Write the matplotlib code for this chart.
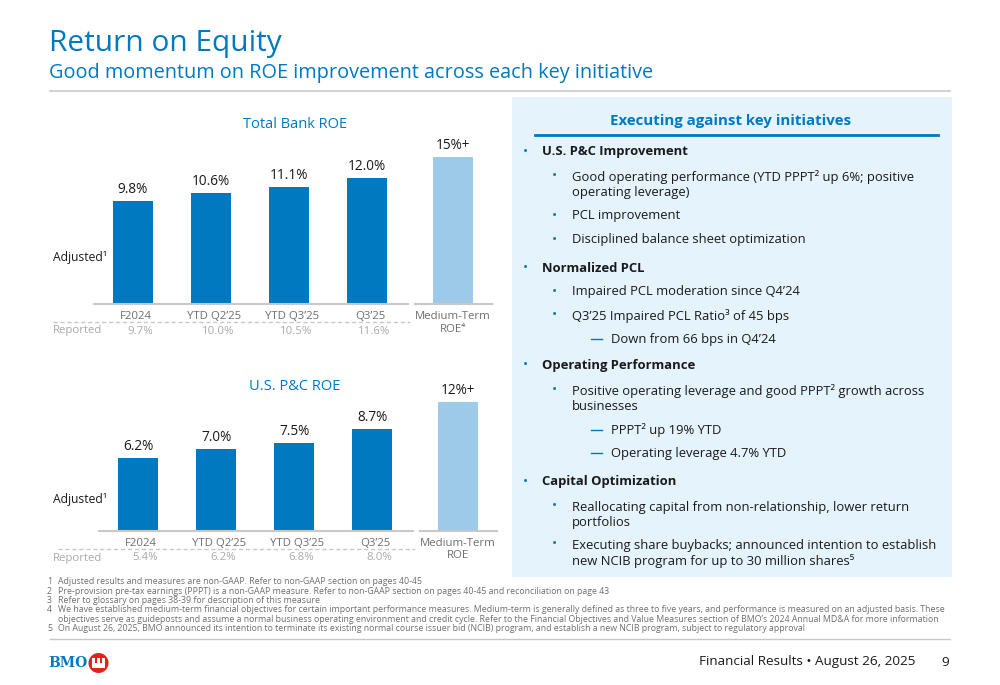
import numpy as np
import matplotlib
matplotlib.use('Agg')
import matplotlib.pyplot as plt
from matplotlib import transforms
from matplotlib.patches import Rectangle, Ellipse
from matplotlib.lines import Line2D
from matplotlib import font_manager

# ---- data ----
periods = ['F2024', 'YTD Q2’25', 'YTD Q3’25', 'Q3’25']
bank_adjusted = [9.8, 10.6, 11.1, 12.0]
bank_reported = [9.7, 10.0, 10.5, 11.6]
bank_target = 14.0          # drawn height of the medium-term bar
bank_target_label = '15%+'
usp_adjusted = [6.2, 7.0, 7.5, 8.7]
usp_reported = [5.4, 6.2, 6.8, 8.0]
usp_target = 11.0
usp_target_label = '12%+'

bullets = [
    (1, ['U.S. P&C Improvement']),
    (2, ['Good operating performance (YTD PPPT² up 6%; positive', 'operating leverage)']),
    (2, ['PCL improvement']),
    (2, ['Disciplined balance sheet optimization']),
    (1, ['Normalized PCL']),
    (2, ['Impaired PCL moderation since Q4’24']),
    (2, ['Q3’25 Impaired PCL Ratio³ of 45 bps']),
    (3, ['Down from 66 bps in Q4’24']),
    (1, ['Operating Performance']),
    (2, ['Positive operating leverage and good PPPT² growth across', 'businesses']),
    (3, ['PPPT² up 19% YTD']),
    (3, ['Operating leverage 4.7% YTD']),
    (1, ['Capital Optimization']),
    (2, ['Reallocating capital from non-relationship, lower return', 'portfolios']),
    (2, ['Executing share buybacks; announced intention to establish',
         'new NCIB program for up to 30 million shares⁵']),
]

footnotes = [
    ('1', 'Adjusted results and measures are non-GAAP. Refer to non-GAAP section on pages 40-45'),
    ('2', 'Pre-provision pre-tax earnings (PPPT) is a non-GAAP measure. Refer to non-GAAP section on pages 40-45 and reconciliation on page 43'),
    ('3', 'Refer to glossary on pages 38-39 for description of this measure'),
    ('4', 'We have established medium-term financial objectives for certain important performance measures. Medium-term is generally defined as three to five years, and performance is measured on an adjusted basis. These'),
    ('', 'objectives serve as guideposts and assume a normal business operating environment and credit cycle. Refer to the Financial Objectives and Value Measures section of BMO’s 2024 Annual MD&A for more information'),
    ('5', 'On August 26, 2025, BMO announced its intention to terminate its existing normal course issuer bid (NCIB) program, and establish a new NCIB program, subject to regulatory approval'),
]

# ---- style ----
BLUE = '#0079C1'
LIGHT = '#9DCAE8'
PANEL = '#E4F3FC'
DARK = '#1A1A1A'
GREY = '#6D6E71'
LGREY = '#A7A9AC'
RULE = '#C8C8C8'
RED = '#E2231A'

installed = {f.name for f in font_manager.fontManager.ttflist}
BODY = ['Open Sans', 'DejaVu Sans']
if 'Liberation Sans Narrow' in installed:
    COND = ['Liberation Sans Narrow', 'DejaVu Sans']
    cscale = 1.22
else:
    COND = ['Open Sans', 'DejaVu Sans']
    cscale = 1.0

W, H = 1000, 685
fig = plt.figure(figsize=(W / 100, H / 100), dpi=100)
fig.patch.set_facecolor('white')


def fx(px):
    return px / W


def fy(py):
    return 1 - py / H


def ftext(x, y, s, **kw):
    kw.setdefault('va', 'center')
    kw.setdefault('family', BODY)
    return fig.text(fx(x), fy(y), s, **kw)


def fline(x0, x1, y0, y1, **kw):
    fig.add_artist(Line2D([fx(x0), fx(x1)], [fy(y0), fy(y1)], **kw))


def frect(x0, y0, x1, y1, **kw):
    # rectangle given by pixel corners (top-left, bottom-right)
    fig.add_artist(Rectangle((fx(x0), fy(y1)), (x1 - x0) / W, (y1 - y0) / H,
                             transform=fig.transFigure, edgecolor='none', **kw))


# ---- header ----
ftext(49, 44, 'Return on Equity', fontsize=21.5 * cscale, color=BLUE, family=COND)
ftext(49, 73, 'Good momentum on ROE improvement across each key initiative',
      fontsize=14.3 * cscale, color=BLUE, family=COND)
fline(50, 950, 91, 91, color=RULE, lw=1.2)

# ---- bar charts ----
UNIT = 78       # px per bar slot
MT_X = 4.1


def roe_chart(x0_px, base_px, px_per_pct, ymax, title, title_y, adj_y,
              adjusted, reported, target, target_label, mt_label):
    left = x0_px - UNIT
    ax = fig.add_axes([fx(left), fy(base_px), 6 * UNIT / W, ymax * px_per_pct / H])
    ax.set_xlim(-1, 5)
    ax.set_ylim(0, ymax)
    ax.axis('off')

    x = np.arange(len(adjusted))
    ax.bar(x, adjusted, width=0.51, color=BLUE, zorder=2)
    ax.bar(MT_X, target, width=0.51, color=LIGHT, zorder=2)

    for xi, v in zip(x, adjusted):
        ax.annotate(f'{v:.1f}%', (xi, v), xytext=(0, 4), textcoords='offset pixels',
                    ha='center', va='bottom', fontsize=9.8, color=DARK, family=BODY)
    ax.annotate(target_label, (MT_X, target), xytext=(0, 4), textcoords='offset pixels',
                ha='center', va='bottom', fontsize=9.8, color=DARK, family=BODY)

    ax.plot([-0.5, 3.52], [0, 0], color=RULE, lw=1.5, clip_on=False, zorder=3)
    ax.plot([3.62, 4.6], [0, 0], color=RULE, lw=1.5, clip_on=False, zorder=3)

    for xi, p, r in zip(x, periods, reported):
        ax.annotate(p, (xi, 0), xytext=(3, -12), textcoords='offset pixels',
                    ha='center', va='center', fontsize=8.2, color=GREY, family=BODY)
        ax.annotate(f'{r:.1f}%', (xi, 0), xytext=(7, -27), textcoords='offset pixels',
                    ha='center', va='center', fontsize=8.2, color=LGREY, family=BODY)
    ax.annotate('Medium-Term', (MT_X, 0), xytext=(0, -12), textcoords='offset pixels',
                ha='center', va='center', fontsize=8.2, color=GREY, family=BODY)
    ax.annotate(mt_label, (MT_X, 0), xytext=(0, -25), textcoords='offset pixels',
                ha='center', va='center', fontsize=8.2, color=GREY, family=BODY)

    dash = transforms.offset_copy(ax.transData, fig=fig, x=0, y=-18, units='dots')
    ax.plot([-1.03, 3.55], [0, 0], transform=dash, color=RULE, lw=1,
            ls=(0, (3, 2)), clip_on=False)
    ftext(53, base_px + 27, 'Reported', fontsize=8.2, color=LGREY)
    ftext(53, adj_y, 'Adjusted¹', fontsize=8.7, color=DARK)
    ftext(295, title_y, title, fontsize=10.5, color=BLUE, ha='center')


roe_chart(133, 304, 10.5, 16, 'Total Bank ROE', 125, 257,
          bank_adjusted, bank_reported, bank_target, bank_target_label, 'ROE⁴')
roe_chart(138, 531, 11.75, 13, 'U.S. P&C ROE', 386, 500,
          usp_adjusted, usp_reported, usp_target, usp_target_label, 'ROE')

# ---- right panel ----
frect(512, 97, 952, 577, facecolor=PANEL, zorder=0)
ftext(731, 121, 'Executing against key initiatives', fontsize=10.8, fontweight='bold',
      color=BLUE, ha='center')
fline(535, 938, 135, 135, color=BLUE, lw=2)

item_y = [152, 177, 216, 240, 268, 292, 316, 339, 366, 391, 430, 453, 482, 507, 545]
LINE_STEP = 15.5
for (level, lines), y in zip(bullets, item_y):
    if level == 1:
        ftext(525, y, '•', fontsize=10, color=BLUE, ha='center')
        tx, weight = 542, 'bold'
    elif level == 2:
        ftext(554, y, '•', fontsize=10, color=BLUE, ha='center')
        tx, weight = 572, 'normal'
    else:
        fline(591, 602, y, y, color=BLUE, lw=1)
        tx, weight = 611, 'normal'
    for k, line in enumerate(lines):
        ftext(tx, y + k * LINE_STEP, line, fontsize=9.35, color=DARK, fontweight=weight)

# ---- footnotes ----
for k, (num, note) in enumerate(footnotes):
    y = 582 + k * 9.3
    if num:
        ftext(47, y, num, fontsize=6.33 * cscale, color=GREY, family=COND)
    ftext(58, y, note, fontsize=6.33 * cscale, color=GREY, family=COND)

fline(50, 950, 639, 639, color=RULE, lw=1)

# ---- footer ----
ftext(48, 663, 'BMO', fontsize=10, color=BLUE, fontweight='bold', family=['DejaVu Serif'])
fig.add_artist(Ellipse((fx(98.5), fy(663)), 20 / W, 20 / H, transform=fig.transFigure,
                       facecolor=RED, edgecolor='none'))
frect(92, 663, 105, 668, facecolor='white')
for cx in (92, 97, 102):
    frect(cx, 658, cx + 3, 663, facecolor='white')
ftext(915, 662, 'Financial Results • August 26, 2025', fontsize=9.7 * cscale,
      color=DARK, family=COND, ha='right')
ftext(945, 662, '9', fontsize=9.7 * cscale, color=DARK, family=COND, ha='center')

fig.savefig('out.png', dpi=100, facecolor='white')
